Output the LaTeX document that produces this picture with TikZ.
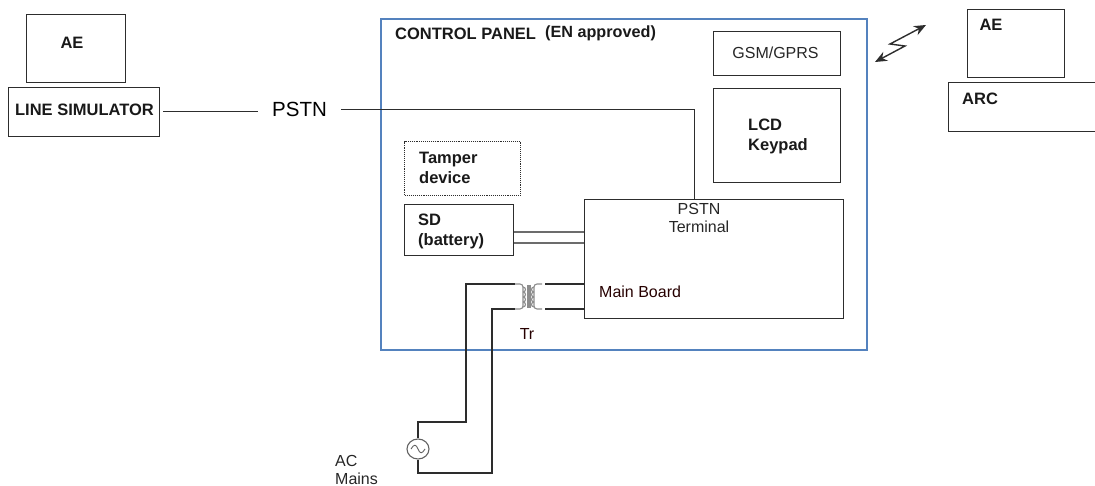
\documentclass[tikz,border=0pt]{standalone}
\usepackage{fontspec}
\setmainfont{Liberation Sans}
\usetikzlibrary{arrows.meta,shapes.geometric}
\definecolor{cpblue}{RGB}{84,130,190}
\definecolor{cpline}{RGB}{45,45,45}
\definecolor{cpgrey}{RGB}{140,140,140}
\tikzset{
  x=1pt, y=-1pt,
  box/.style={draw=cpline, line width=1.1pt, inner sep=0pt, anchor=north west},
  lab/.style={font=\fontsize{16}{18}\selectfont, text=black!85, inner sep=0pt, align=left},
  blab/.style={font=\fontsize{16.5}{19.5}\selectfont\bfseries, text=black!90, inner sep=0pt, align=left},
  wire/.style={draw=cpline, line width=1.2pt},
  twin/.style={draw=cpline!70, line width=1.4pt},
  coil/.style={draw=cpgrey, line width=1.1pt},
  spark/.style={{Stealth[length=12pt,width=10pt]}-{Stealth[length=12pt,width=10pt]}, draw=cpline, line width=1.4pt}
}
\begin{document}
\begin{tikzpicture}
  \useasboundingbox (0,0) rectangle (1095,486);
  \clip (0,0) rectangle (1095,486);
  % outer boxes
  \node[box, minimum width=99pt, minimum height=68pt]  (aeleft) at (26,14) {};
  \node[box, minimum width=151pt, minimum height=49pt] (linesim) at (8,87) {};
  \node[box, minimum width=97pt, minimum height=68pt]  (aeright) at (967,9) {};
  \node[box, minimum width=160pt, minimum height=49pt] (arc) at (948,82) {};
  % panel
  \node[box, draw=cpblue, line width=2pt, minimum width=486pt, minimum height=331pt] (panel) at (380,18) {};
  \node[box, minimum width=127pt, minimum height=44pt] (gsm) at (713,31) {};
  \node[box, minimum width=127pt, minimum height=94pt] (lcd) at (713,88) {};
  \node[box, densely dotted, minimum width=116pt, minimum height=54pt] (tamper) at (404,141) {};
  \node[box, minimum width=109pt, minimum height=51pt] (sd) at (404,204) {};
  \node[box, minimum width=259pt, minimum height=119pt] (board) at (584,199) {};
  % labels
  \node[blab] (aelefttxt) at (72,43) {AE};
  \node[blab] (linesimtxt) at (84.5,110) {LINE SIMULATOR};
  \node[inner sep=0pt, font=\fontsize{20.5}{24}\selectfont] (pstn) at (299.5,109.5) {PSTN};
  \node[blab, anchor=west] (paneltxt) at (395,33.5) {CONTROL PANEL};
  \node[blab, anchor=west, font=\fontsize{16.2}{18}\selectfont\bfseries] (entxt) at (545,33.5) {(EN approved)};
  \node[lab] (gsmtxt) at (775.5,53) {GSM/GPRS};
  \node[blab, anchor=west] (lcdtxt) at (748,136.5) {LCD\\Keypad};
  \node[blab, anchor=west] (tampertxt) at (419,168) {Tamper\\device};
  \node[blab, anchor=west] (sdtxt) at (418,231.5) {SD\\(battery)};
  \node[lab, align=center] (termtxt) at (699,218) {PSTN\\Terminal};
  \node[lab, anchor=west, text=black!85!red] (mbtxt) at (599,292) {Main Board};
  \node[lab, text=black!85!red] (trtxt) at (527,334) {Tr};
  \node[lab, anchor=west] (actxt) at (335,470) {AC\\Mains};
  \node[blab] (aerighttxt) at (991,25) {AE};
  \node[blab, anchor=west] (arctxt) at (962,99) {ARC};
  % phone line
  \draw[wire, line width=1pt] (linesim.east |- 0,112) ++(3,0) -- (258,112);
  \draw[wire, line width=1pt] (pstn.east) ++(14,0.5) -| (board.north -| 694,199);
  % battery
  \draw[twin] (sd.east |- 0,232) -- (board.west |- 0,232);
  \draw[twin] (sd.east |- 0,243) -- (board.west |- 0,243);
  % transformer
  \coordinate (trtl) at (515,284);
  \coordinate (trbl) at (515,309);
  \coordinate (trtr) at (545,284);
  \coordinate (trbr) at (545,309);
  \draw[coil, rounded corners=3pt] (trtl) -- (523,284) -- (523,309) -- (trbl);
  \draw[coil, rounded corners=3pt] (542,284) -- (534,284) -- (534,309) -- (542,309);
  \draw[coil] (528,285) -- (528,308) (530,285) -- (530,308);
  \foreach \yy in {287,292,297,302} {
    \draw[coil] (523,\yy) arc[start angle=90, end angle=-90, radius=2.5pt];
    \draw[coil] (534,\yy) arc[start angle=90, end angle=270, radius=2.5pt];
  }
  \draw[wire] (trtr) -- (board.west |- trtr);
  \draw[wire] (trbr) -- (board.west |- trbr);
  % mains
  \node[draw=cpline!75, line width=1.1pt, ellipse, minimum width=22pt, minimum height=20pt, inner sep=0pt] (ac) at (418,449) {};
  \draw[cpline!75, line width=0.9pt] (411,449) .. controls (414,444) and (416,444) .. (418,449) .. controls (420,454) and (422,454) .. (425,449);
  \draw[wire] (trtl) -| (466,422) -| (ac.north);
  \draw[wire] (ac.south) |- (492,473) |- (trbl);
  % radio link
  \coordinate (sparkb) at (875,62);
  \coordinate (sparkt) at (926,25);
  \draw[spark] (sparkb) -- (905,46) -- (890,44) -- (sparkt);
\end{tikzpicture}
\end{document}
